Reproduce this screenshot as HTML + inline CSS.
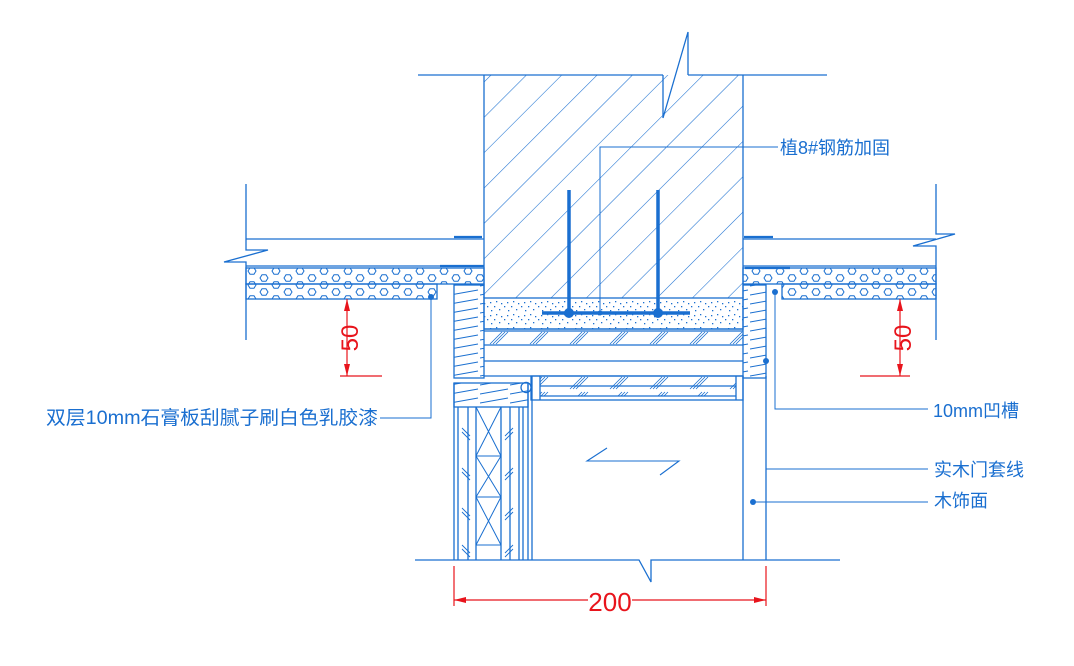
<!DOCTYPE html>
<html><head><meta charset="utf-8"><style>
html,body{margin:0;padding:0;background:#fff;width:1074px;height:666px;overflow:hidden}
svg{display:block}
text{font-family:"Liberation Sans","Noto Sans CJK SC",sans-serif;fill:#1a6fd0}
</style></head><body>
<svg width="1074" height="666" viewBox="0 0 1074 666" xmlns="http://www.w3.org/2000/svg">
<defs>
<pattern id="hex" x="246" y="267" width="24" height="14" patternUnits="userSpaceOnUse">
<polygon points="2,4 4,0.8 8,0.8 10,4 8,7.2 4,7.2" fill="none" stroke="#1a6fd0" stroke-width="1"/>
<polygon points="14,11 16,7.8 20,7.8 22,11 20,14.2 16,14.2" fill="none" stroke="#1a6fd0" stroke-width="1"/>
<polygon points="14,-3 16,-6.2 20,-6.2 22,-3 20,0.2 16,0.2" fill="none" stroke="#1a6fd0" stroke-width="1"/>
</pattern>
<pattern id="diag" x="0" y="0" width="25" height="25" patternUnits="userSpaceOnUse" patternTransform="rotate(45)">
<line x1="0" y1="0" x2="0" y2="25" stroke="#1a6fd0" stroke-width="1.1"/>
</pattern>
<pattern id="dots" width="17" height="13" patternUnits="userSpaceOnUse">
<rect x="3" y="2" width="1.3" height="1.3" fill="#1a6fd0"/><rect x="11" y="7" width="1.3" height="1.3" fill="#1a6fd0"/>
<rect x="14" y="3" width="1.3" height="1.3" fill="#1a6fd0"/><rect x="6" y="10" width="1.3" height="1.3" fill="#1a6fd0"/>
<rect x="15" y="11" width="1.3" height="1.3" fill="#1a6fd0"/><rect x="8" y="4" width="1.3" height="1.3" fill="#1a6fd0"/>
<rect x="1" y="7" width="1.3" height="1.3" fill="#1a6fd0"/>
</pattern>
<pattern id="grain" width="30" height="9" patternUnits="userSpaceOnUse">
<path d="M0,7 L28,2" stroke="#1a6fd0" stroke-width="1" fill="none"/>
</pattern>
<pattern id="hatch3" width="40" height="15" patternUnits="userSpaceOnUse">
<path d="M10,14 L22,2 M13,14 L25,2 M16,14 L28,2" stroke="#1a6fd0" stroke-width="0.8"/>
</pattern>
</defs>
<g stroke="#1a6fd0" stroke-width="1.3" fill="none">
<path d="M418,75 H663 M688,75 H827"/>
<path d="M663,75 V118 L688,32 V75"/>
<rect x="484" y="75" width="259" height="223" fill="url(#diag)" stroke="none"/>
<path d="M484,75 V298 M743,75 V298"/>
<path d="M246,184 V250 H268 L224,262 H246 V340"/>
<path d="M246,239 H484 M246,266 H484"/>
<rect x="246" y="268" width="238" height="16" fill="url(#hex)"/>
<rect x="246" y="284" width="191" height="15" fill="url(#hex)"/>
<path d="M454,237 H482 M440,266 H484" stroke-width="2.2"/>
<path d="M936,184 V234 H955 L913,246 H936 V340"/>
<path d="M743,239 H936 M743,266 H936"/>
<rect x="743" y="268" width="193" height="16" fill="url(#hex)"/>
<rect x="782" y="284" width="154" height="15" fill="url(#hex)"/>
<path d="M744,237 H773 M745,268 H790" stroke-width="2.2"/>
<rect x="454" y="285" width="30" height="93" fill="url(#grain)"/>
<rect x="743" y="285" width="23" height="93" fill="url(#grain)"/>
<rect x="484" y="298" width="259" height="31" fill="url(#dots)"/>
<path d="M484,329 H743 M484,331 H743 M484,345 H743 M484,361 H743 M484,376 H743"/>
<rect x="484" y="331" width="259" height="15" fill="url(#hatch3)" stroke="none"/>
<rect x="531" y="376" width="212" height="24"/>
<path d="M540,386 H736 M540,396 H736 M540,376 V400 M736,376 V400"/>
<rect x="540" y="376" width="196" height="10" fill="url(#hatch3)" stroke="none"/>
<rect x="540" y="386" width="196" height="10" fill="url(#hatch3)" stroke="none"/>
<path d="M531,388 a5,5 0 1,1 0,-1" />
<rect x="454" y="383" width="74" height="24" fill="url(#grain)"/>
<path d="M454,383 V560 M458,407 V560 M468,407 V560 M476,407 V560 M501,407 V560 M510,407 V560 M519,407 V560 M523,407 V560 M528,383 V560 M532,376 V560"/>
<path d="M476,407 H501 M476,456 H501 M476,497 H501 M476,545 H501 M476,407 L501,456 M501,407 L476,456 M476,456 L501,497 M501,456 L476,497 M476,497 L501,545 M501,497 L476,545" stroke-width="1"/>
<path d="M462,428 l8,8 M462,432 l8,8 M513,428 l-8,8 M513,432 l-8,8 M462,468 l8,8 M462,472 l8,8 M513,468 l-8,8 M513,472 l-8,8 M462,508 l8,8 M462,512 l8,8 M513,508 l-8,8 M513,512 l-8,8 M462,545 l8,8 M462,549 l8,8 M513,545 l-8,8 M513,549 l-8,8" stroke-width="0.9"/>
<path d="M743,376 V560 M766,376 V560"/>
<path d="M415,560 H639 L651,582 V560 H840"/>
<path d="M607,448 L587,461 H679 L660,475" stroke-width="1.1"/>
<path d="M569,190 V313 M658,190 V313 M542,313 H690" stroke-width="3.5"/>
<path d="M600,313 V147 H778" stroke-width="1"/>
<path d="M380,418 H431 V297" stroke-width="1"/>
<path d="M775,292 V409 H928" stroke-width="1"/>
<path d="M766,469 H928" stroke-width="1"/>
<path d="M753,502 H928" stroke-width="1"/>
</g>
<g fill="#1a6fd0">
<circle cx="569" cy="313" r="5"/><circle cx="658" cy="313" r="5"/><circle cx="600" cy="313" r="2.5"/>
<circle cx="431" cy="297" r="3"/><circle cx="775" cy="292" r="3"/><circle cx="766" cy="361" r="3"/><circle cx="753" cy="502" r="3"/>
</g>
<g stroke="#e8141c" stroke-width="1.2" fill="none">
<path d="M347,299 V376 M340,376 H382"/>
<path d="M900,299 V376 M860,376 H910"/>
<path d="M454,566 V606 M766,566 V606 M454,600 H588 M632,600 H766"/>
</g>
<g fill="#e8141c">
<polygon points="347,299 344,311 350,311"/><polygon points="347,376 344,364 350,364"/>
<polygon points="900,299 897,311 903,311"/><polygon points="900,376 897,364 903,364"/>
<polygon points="454,600 466,597 466,603"/><polygon points="766,600 754,597 754,603"/>
<text x="610" y="611" font-size="26" text-anchor="middle" style="fill:#e8141c">200</text>
<text transform="translate(358,338) rotate(-90)" font-size="24" text-anchor="middle" style="fill:#e8141c">50</text>
<text transform="translate(911,338) rotate(-90)" font-size="24" text-anchor="middle" style="fill:#e8141c">50</text>
</g>
<text x="780" y="154" font-size="18">植8#钢筋加固</text>
<text x="46" y="424" font-size="19" textLength="332" lengthAdjust="spacingAndGlyphs">双层10mm石膏板刮腻子刷白色乳胶漆</text>
<text x="933" y="417" font-size="18">10mm凹槽</text>
<text x="934" y="476" font-size="18">实木门套线</text>
<text x="934" y="507" font-size="18">木饰面</text>
</svg>
</body></html>
